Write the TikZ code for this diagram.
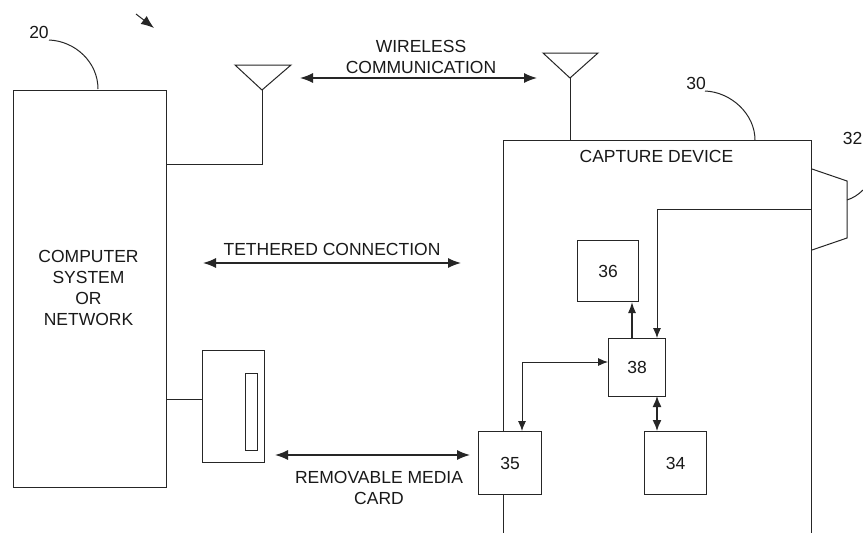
\documentclass[tikz,border=0pt]{standalone}
\usepackage{fontspec}
\setmainfont{Liberation Sans}
\usetikzlibrary{arrows.meta}
\tikzset{
 ln/.style={draw=black!85,line width=1pt},
 thin ln/.style={draw=black!85,line width=0.9pt},
 tx/.style={font=\fontsize{17.5}{21}\selectfont,align=center,inner sep=0pt,text=black!90},
 num/.style={font=\fontsize{17.5}{21}\selectfont,inner sep=0pt,text=black!90},
 big/.style={draw=black!85,line width=1.4pt,{Latex[length=13pt,width=10pt]}-{Latex[length=13pt,width=10pt]}},
 sm/.style={thin ln,-{Latex[length=10pt,width=8pt]}},
}
\begin{document}
\begin{tikzpicture}[x=1pt,y=-1pt]
\useasboundingbox[fill=white] (0,0) rectangle (863,533);
% computer
\node[ln,minimum width=153pt,minimum height=397.5pt,inner sep=0pt,anchor=north west] (comp) at (13,89.5) {};
\node[tx] (compt) at (88.5,288) {COMPUTER\\SYSTEM\\OR\\NETWORK};
% antennas
\coordinate (atL) at (262,90);
\draw[ln] (235,65) -- (291,65) -- (atL) -- cycle;
\coordinate (atLb) at (262,164);
\draw[ln] (atL) -- (atLb) -- (comp.east |- atLb);
\coordinate (atR) at (570,78);
\draw[ln] (543,53) -- (598,53) -- (atR) -- cycle;
% capture device outline
\coordinate (capTL) at (503,140);
\coordinate (capTR) at (811,140);
\coordinate (capBL) at (503,533);
\coordinate (capBR) at (811,533);
\node[tx,anchor=center] (capt) at (656.5,156) {CAPTURE DEVICE};
\draw[ln] (capTL) -- (capTR) -- (capBR);
\draw[ln] (capTL) -- (capBL);
\draw[ln] (atR) -- (atR |- capTL);
% lens
\draw[ln] (812,169) -- (847,181) -- (847,238) -- (812,250);
% boxes
\node[ln,fill=white,minimum width=61pt,minimum height=61pt,inner sep=0pt,anchor=north west,num] (b36) at (577,240) {36};
\node[ln,fill=white,minimum width=57pt,minimum height=58pt,inner sep=0pt,anchor=north west,num] (b38) at (608,338) {38};
\node[ln,fill=white,minimum width=63pt,minimum height=63pt,inner sep=0pt,anchor=north west,num] (b35) at (478,431) {35};
\node[ln,fill=white,minimum width=62pt,minimum height=63pt,inner sep=0pt,anchor=north west,num] (b34) at (644,431) {34};
% card
\node[ln,minimum width=62pt,minimum height=112pt,inner sep=0pt,anchor=north west] (card) at (202,350) {};
\node[ln,minimum width=12pt,minimum height=77pt,inner sep=0pt,anchor=north west] (slot) at (245,373) {};
\coordinate (cl) at (202,399);
\draw[ln] (comp.east |- cl) -- (cl);
% internal connectors
\coordinate (w1) at (657,209);
\draw[sm] (capTR |- w1) -- (w1) -- (w1 |- b38.north);
\coordinate (a36) at (632,338);
\draw[draw=black!85,line width=1.4pt,-{Latex[length=11pt,width=8pt]}] (a36) -- (a36 |- b36.south);
\coordinate (a34) at (657,396);
\draw[draw=black!85,line width=1.4pt,{Latex[length=11pt,width=9pt]}-{Latex[length=11pt,width=9pt]}] (a34) -- (a34 |- b34.north);
\coordinate (e1) at (522,362);
\draw[thin ln,{Latex[length=10pt,width=8pt]}-{Latex[length=10pt,width=8pt]}] (e1 |- b35.north) -- (e1) -- (e1 -| b38.west);
% free arrows
\coordinate (wa) at (300,78); \coordinate (wb) at (537,78);
\draw[big] (wa) -- (wb);
\coordinate (ta) at (203,263); \coordinate (tb) at (461,263);
\draw[big] (ta) -- (tb);
\coordinate (ra) at (275,455); \coordinate (rb) at (470,455);
\draw[big] (ra) -- (rb);
\coordinate (sa) at (136,14); \coordinate (sb) at (154,28);
\draw[ln,-{Latex[length=13pt,width=10pt]}] (sa) -- (sb);
% labels
\node[tx] (lw) at (421,57) {WIRELESS\\COMMUNICATION};
\node[tx] (lt) at (332,249) {TETHERED CONNECTION};
\node[tx] (lr) at (379,488) {REMOVABLE MEDIA\\CARD};
% leaders
\node[num] (n20) at (39,32) {20};
\node[num] (n30) at (696,83) {30};
\node[num,anchor=east] (n32) at (862.5,138) {32};
\coordinate (c20a) at (49,40); \coordinate (c20b) at (98,89);
\coordinate (c30a) at (705,91); \coordinate (c30b) at (755,140);
\coordinate (c32a) at (847,200); \coordinate (c32b) at (863,190);
\draw[ln] (c20a) .. controls (75,41) and (98,62) .. (c20b);
\draw[ln] (c30a) .. controls (731,92) and (755,114) .. (c30b);
\draw[ln] (c32a) .. controls (853,198) and (858,195) .. (c32b);
\end{tikzpicture}
\end{document}
